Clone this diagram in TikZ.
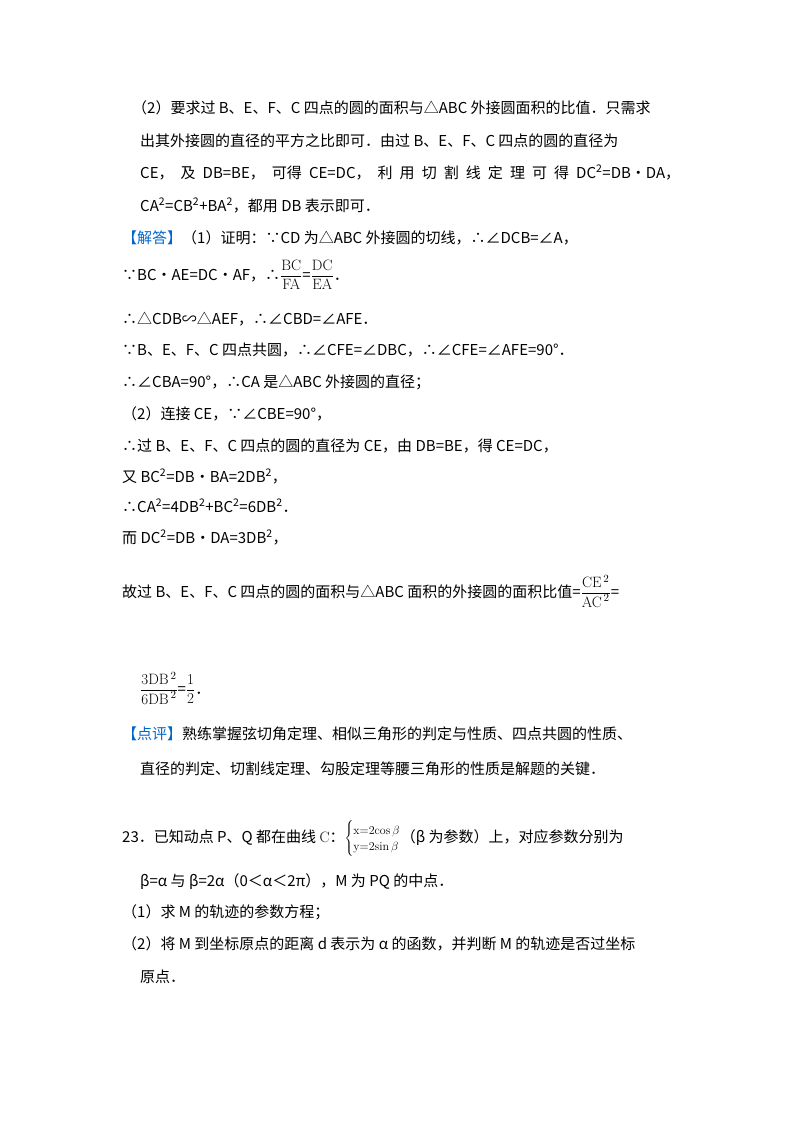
\documentclass[tikz,border=0pt]{standalone}
\usepackage{fontspec}
\setmainfont{Noto Sans CJK SC}
\newfontfamily\lmr{Latin Modern Roman}
\newcommand{\fr}[2]{$\displaystyle\frac{\hbox{\lmr #1}}{\hbox{\lmr #2}}$}
\definecolor{ansblue}{RGB}{0,102,204}
\begin{document}
\begin{tikzpicture}[x=1pt,y=-1pt,
  ln/.style={anchor=base west,inner sep=0pt,font=\fontsize{15}{18}\selectfont}]
\useasboundingbox (0,0) rectangle (800,1133);
\node[ln] (l1) at (132,113) {（2）要求过 B、E、F、C 四点的圆的面积与△ABC 外接圆面积的比值．只需求};
\node[ln] (l2) at (140,146) {出其外接圆的直径的平方之比即可．由过 B、E、F、C 四点的圆的直径为};
\node[ln] (l3) at (140,178) {\makebox[540pt][s]{CE，\hfill 及\hfill DB=BE，\hfill 可得\hfill CE=DC，\hfill 利\hfill 用\hfill 切\hfill 割\hfill 线\hfill 定\hfill 理\hfill 可\hfill 得\hfill DC\textsuperscript{2}=DB•DA，}};
\node[ln] (l4) at (140,211) {CA\textsuperscript{2}=CB\textsuperscript{2}+BA\textsuperscript{2}，都用 DB 表示即可．};
\node[ln] (l5) at (122,243) {\textcolor{ansblue}{【解答】}（1）证明：∵CD 为△ABC 外接圆的切线，∴∠DCB=∠A，};
\node[ln] (l6) at (122,280) {∵BC•AE=DC•AF，∴\fr{BC}{FA}=\fr{DC}{EA}．};
\node[ln] (l7) at (122,324) {∴△CDB∽△AEF，∴∠CBD=∠AFE．};
\node[ln] (l8) at (122,355) {∵B、E、F、C 四点共圆，∴∠CFE=∠DBC，∴∠CFE=∠AFE=90°．};
\node[ln] (l9) at (122,387) {∴∠CBA=90°，∴CA 是△ABC 外接圆的直径；};
\node[ln] (l10) at (122,419) {（2）连接 CE，∵∠CBE=90°，};
\node[ln] (l11) at (122,451) {∴过 B、E、F、C 四点的圆的直径为 CE，由 DB=BE，得 CE=DC，};
\node[ln] (l12) at (122,482) {又 BC\textsuperscript{2}=DB•BA=2DB\textsuperscript{2}，};
\node[ln] (l13) at (122,512) {∴CA\textsuperscript{2}=4DB\textsuperscript{2}+BC\textsuperscript{2}=6DB\textsuperscript{2}．};
\node[ln] (l14) at (122,543) {而 DC\textsuperscript{2}=DB•DA=3DB\textsuperscript{2}，};
\node[ln] (l15) at (122,597) {故过 B、E、F、C 四点的圆的面积与△ABC 面积的外接圆的面积比值=\fr{CE$^{\,2}$}{AC$^{\,2}$}=};
\node[ln] (l16) at (140,694) {\fr{3DB$^{\,2}$}{6DB$^{\,2}$}=\fr{1}{2}．};
\node[ln] (l17) at (122,739) {\textcolor{ansblue}{【点评】}熟练掌握弦切角定理、相似三角形的判定与性质、四点共圆的性质、};
\node[ln] (l18) at (140,774) {直径的判定、切割线定理、勾股定理等腰三角形的性质是解题的关键．};
\node[ln] (l19) at (122,842) {23．已知动点 P、Q 都在曲线 {\lmr C}：$\left\{\begin{array}{@{}l@{}}\hbox{\lmr\fontsize{12}{13}\selectfont x=2cos\,$\beta$}\\[-2pt] \hbox{\lmr\fontsize{12}{13}\selectfont y=2sin\,$\beta$}\end{array}\right.$（β 为参数）上，对应参数分别为};
\node[ln] (l20) at (140,886) {β=α 与 β=2α（0＜α＜2π），M 为 PQ 的中点．};
\node[ln] (l21) at (122,917) {（1）求 M 的轨迹的参数方程；};
\node[ln] (l22) at (122,949) {（2）将 M 到坐标原点的距离 d 表示为 α 的函数，并判断 M 的轨迹是否过坐标};
\node[ln] (l23) at (140,982) {原点．};
\end{tikzpicture}
\end{document}
